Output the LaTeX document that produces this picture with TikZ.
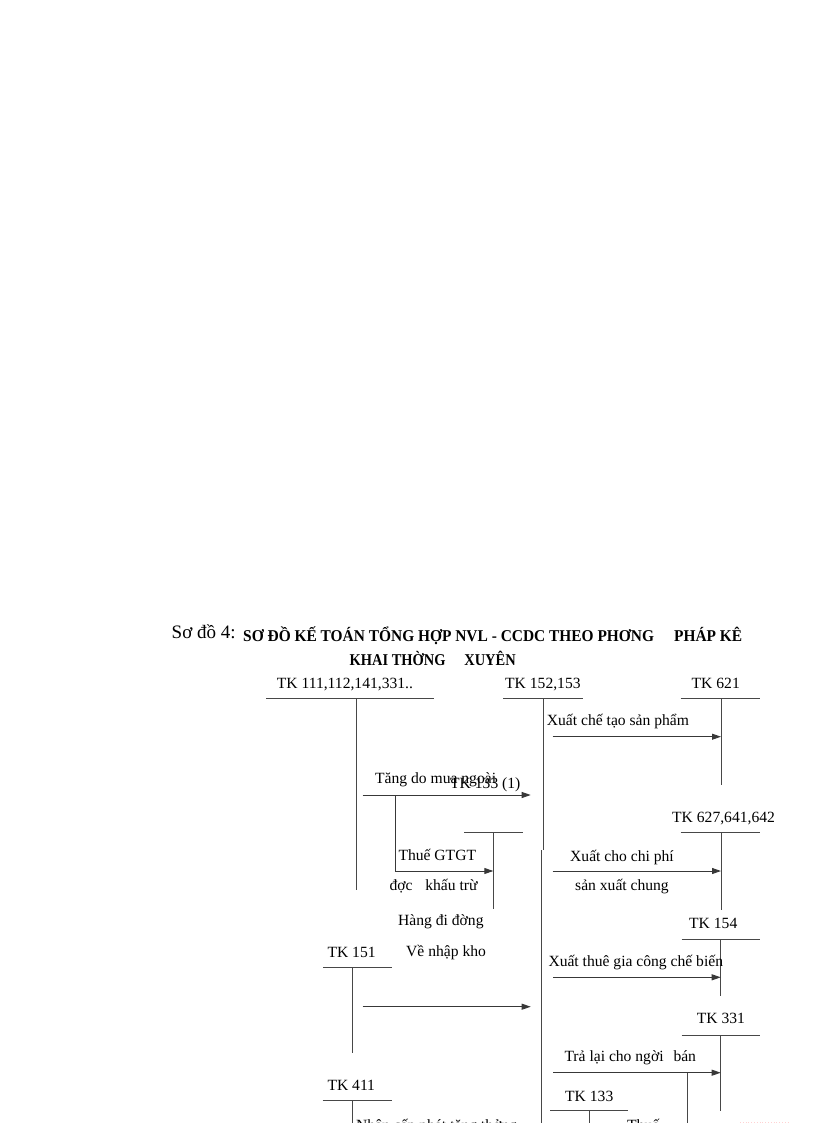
\documentclass[tikz,border=0pt]{standalone}
\usepackage{graphicx}
\usepackage{fontspec}
\setmainfont{Liberation Serif}
\usetikzlibrary{arrows.meta}
\begin{document}
\begin{tikzpicture}[x=1pt,y=-1pt,
  lbl/.style={anchor=base west, inner sep=0pt, font=\fontsize{15.6}{19}\selectfont},
  acct/.style={draw=black!72, line width=0.9pt},
  flow/.style={draw=black!78, line width=0.9pt, -{Triangle[length=9pt,width=6pt]}},
]
\clip (0,0) rectangle (816,1123);
\fill[white] (0,0) rectangle (816,1123);

% ---------- title ----------
\node[lbl, font=\fontsize{19}{22}\selectfont] (so) at (171.5,638.5) {Sơ đồ 4:};
\node[lbl] (t1) at (243,641) {\resizebox{499pt}{\height}{\fontsize{16.5}{19}\selectfont\bfseries SƠ ĐỒ KẾ TOÁN TỔNG HỢP NVL - CCDC THEO PHƠNG\hspace{1.3em}PHÁP KÊ}};
\node[lbl] (t2) at (349.5,665.3) {\resizebox{166pt}{\height}{\fontsize{16.5}{19}\selectfont\bfseries KHAI THỜNG\hspace{1.3em}XUYÊN}};

% ---------- account labels ----------
\node[lbl] (l111) at (276.7,688.3) {TK 111,112,141,331..};
\node[lbl] (l152) at (505,688.3) {TK 152,153};
\node[lbl] (l621) at (691.5,688.3) {TK 621};
\node[lbl] (l1331) at (450,788.3) {TK 133 (1)};
\node[lbl] (l627) at (672,822.5) {TK 627,641,642};
\node[lbl] (l154) at (689,928.5) {TK 154};
\node[lbl] (l151) at (327.3,957.3) {TK 151};
\node[lbl] (l331) at (696.7,1023.8) {TK 331};
\node[lbl] (l411) at (327.3,1090.7) {TK 411};
\node[lbl] (l133) at (565,1101) {TK 133};

% ---------- T-accounts ----------
% TK 111...
\coordinate (h111a) at (266,698.3); \coordinate (h111b) at (434,698.3);
\coordinate (v111a) at (356,698.3); \coordinate (v111b) at (356,890);
\draw[acct] (h111a) -- (h111b); \draw[acct] (v111a) -- (v111b);
% TK 152,153
\coordinate (h152a) at (503,698.3); \coordinate (h152b) at (583,698.3);
\coordinate (v152a) at (543.3,698.3); \coordinate (v152b) at (543.3,850);
\coordinate (v152c) at (541.8,850); \coordinate (v152d) at (541.8,1130);
\draw[acct] (h152a) -- (h152b); \draw[acct] (v152a) -- (v152b); \draw[acct] (v152c) -- (v152d);
% TK 621
\coordinate (h621a) at (680.7,698.3); \coordinate (h621b) at (760,698.3);
\coordinate (v621a) at (721,698.3); \coordinate (v621b) at (721,785);
\draw[acct] (h621a) -- (h621b); \draw[acct] (v621a) -- (v621b);
% TK 133 (1)
\coordinate (h1331a) at (464,832.3); \coordinate (h1331b) at (522.7,832.3);
\coordinate (v1331a) at (493.3,832.3); \coordinate (v1331b) at (493.3,909.3);
\draw[acct] (h1331a) -- (h1331b); \draw[acct] (v1331a) -- (v1331b);
% TK 627
\coordinate (h627a) at (680.7,832.3); \coordinate (h627b) at (760,832.3);
\coordinate (v627a) at (721,832.3); \coordinate (v627b) at (721,910);
\draw[acct] (h627a) -- (h627b); \draw[acct] (v627a) -- (v627b);
% TK 154
\coordinate (h154a) at (681.7,939); \coordinate (h154b) at (760,939);
\coordinate (v154a) at (720.7,939); \coordinate (v154b) at (720.7,996);
\draw[acct] (h154a) -- (h154b); \draw[acct] (v154a) -- (v154b);
% TK 151
\coordinate (h151a) at (323,967.3); \coordinate (h151b) at (392,967.3);
\coordinate (v151a) at (352.3,967.3); \coordinate (v151b) at (352.3,1053.3);
\draw[acct] (h151a) -- (h151b); \draw[acct] (v151a) -- (v151b);
% TK 331
\coordinate (h331a) at (681.7,1035); \coordinate (h331b) at (760,1035);
\coordinate (v331a) at (720.7,1035); \coordinate (v331b) at (720.7,1111);
\draw[acct] (h331a) -- (h331b); \draw[acct] (v331a) -- (v331b);
% TK 411
\coordinate (h411a) at (322.7,1100.7); \coordinate (h411b) at (392.3,1100.7);
\coordinate (v411a) at (352.3,1100.7); \coordinate (v411b) at (352.3,1130);
\draw[acct] (h411a) -- (h411b); \draw[acct] (v411a) -- (v411b);
% TK 133
\coordinate (h133a) at (550,1110.7); \coordinate (h133b) at (628.3,1110.7);
\coordinate (v133a) at (589,1110.7); \coordinate (v133b) at (589,1130);
\draw[acct] (h133a) -- (h133b); \draw[acct] (v133a) -- (v133b);
% extra vertical below the return arrow
\coordinate (vxa) at (687.7,1072.7); \coordinate (vxb) at (687.7,1130);
\draw[acct] (vxa) -- (vxb);

% ---------- flows ----------
\coordinate (s1) at (552.7,736.7);
\draw[flow] (s1) -- (s1 -| v621a);
\node[lbl] (x1) at (546.7,725) {Xuất chế tạo sản phẩm};

\coordinate (s2) at (362.7,795); \coordinate (e2) at (530.7,795);
\draw[flow] (s2) -- (e2);
\node[lbl] (x2) at (375,783.3) {Tăng do mua ngoài};

\coordinate (b2) at (395,795); \coordinate (b2d) at (395,871);
\draw[flow] (b2) -- (b2d) -- (b2d -| v1331a);
\node[lbl] (x3) at (398.3,860) {Thuế GTGT};
\node[lbl] (x4) at (389.3,890) {đợc\hspace{9pt} khấu trừ};
\node[lbl] (x5) at (398,925) {Hàng đi đờng};
\node[lbl] (x6) at (406,956) {Về nhập kho};

\coordinate (s3) at (552.7,871);
\draw[flow] (s3) -- (s3 -| v627a);
\node[lbl] (x7) at (570,861.7) {Xuất cho chi phí};
\node[lbl] (x8) at (575,890.7) {sản xuất chung};

\coordinate (s4) at (553.3,977.3);
\draw[flow] (s4) -- (s4 -| v154a);
\node[lbl] (x9) at (548.3,966) {Xuất thuê gia công chế biến};

\coordinate (s5) at (362.7,1006.7); \coordinate (e5) at (530.7,1006.7);
\draw[flow] (s5) -- (e5);

\coordinate (s6) at (553.3,1072.7);
\draw[flow] (s6) -- (s6 -| v331a);
\node[lbl] (x10) at (564.3,1061.7) {Trả lại cho ngời\hspace{6pt} bán};

\node[lbl] (x11) at (356,1130) {Nhận cấp phát tặng thởng};
\node[lbl] (x12) at (627,1130) {Thuế};

\coordinate (pk1) at (740,1122); \coordinate (pk2) at (790,1122);
\draw[pink!70, dotted, line width=0.8pt] (pk1) -- (pk2);
\end{tikzpicture}
\end{document}
